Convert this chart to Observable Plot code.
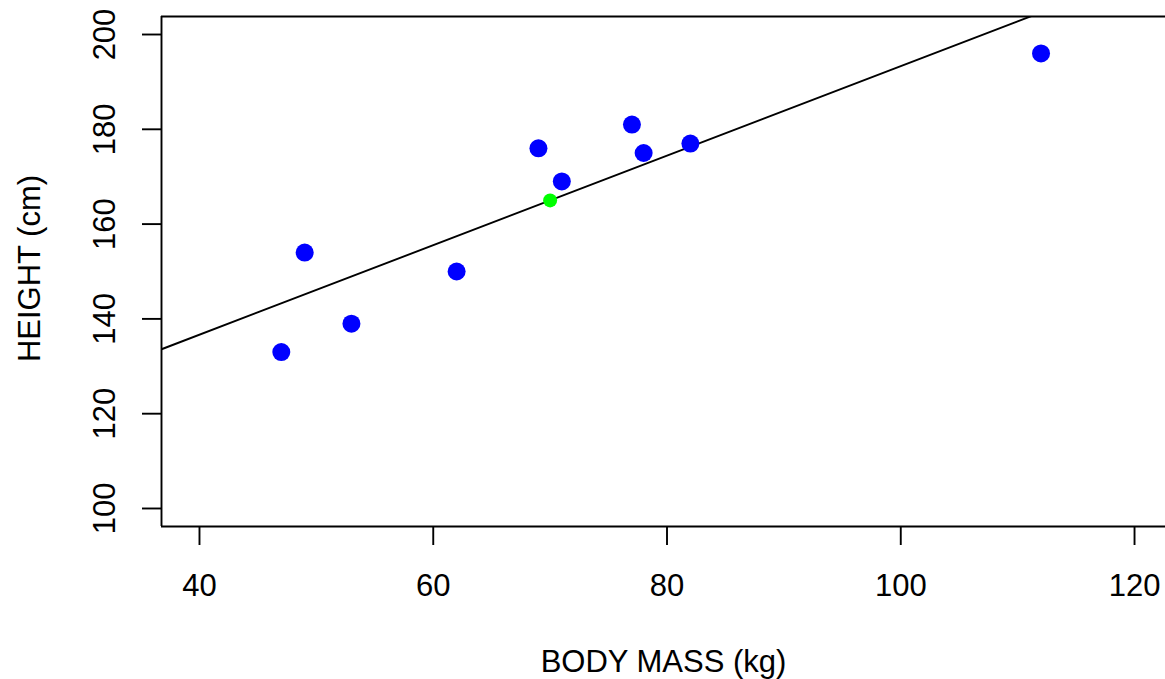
<!DOCTYPE html>
<html>
<head>
<meta charset="utf-8">
<script src="https://cdn.jsdelivr.net/npm/d3@7"></script>
<script src="https://cdn.jsdelivr.net/npm/@observablehq/plot@0.6"></script>
<style>
  html, body { margin: 0; padding: 0; background: #fff; }
  #chart svg { display: block; }
</style>
</head>
<body>
<div id="chart"></div>
<script>
// Data
const bodyMass = [47, 49, 53, 62, 69, 71, 77, 78, 82, 112];
const heightCm = [133, 154, 139, 150, 176, 169, 181, 175, 177, 196];
const xTicks = [40, 60, 80, 100, 120];
const yTicks = [100, 120, 140, 160, 180, 200];
const xTitle = "BODY MASS (kg)";
const yTitle = "HEIGHT (cm)";

const points = bodyMass.map((m, i) => ({x: m, y: heightCm[i]}));
const mx = d3.mean(bodyMass), my = d3.mean(heightCm);
const sxy = d3.sum(points, d => (d.x - mx) * (d.y - my));
const sxx = d3.sum(points, d => (d.x - mx) ** 2);
const slope = sxy / sxx, intercept = my - slope * mx;

const xDomain = [36.75, 122.65];
const yDomain = [96.2, 203.8];
const fitLine = xDomain.map(x => ({x, y: intercept + slope * x}));

const FONT = "'Liberation Sans', Arial, Helvetica, sans-serif";
const FS = 31;
const SW = 1.9;

const chart = Plot.plot({
  width: 1165,
  height: 679,
  marginLeft: 161,
  marginRight: 0,
  marginTop: 16,
  marginBottom: 153,
  style: {fontFamily: FONT, fontSize: FS + "px", color: "#000", background: "#fff"},
  x: {domain: xDomain},
  y: {domain: yDomain},
  marks: [
    Plot.ruleY([yDomain[0], yDomain[1]], {stroke: "#000", strokeWidth: SW}),
    Plot.ruleX([xDomain[0]], {stroke: "#000", strokeWidth: SW}),
    Plot.axisX({ticks: xTicks, tickSize: 19, tickPadding: 28, strokeWidth: SW, label: null, fontSize: FS, tickFormat: d => d}),
    Plot.axisY({ticks: yTicks, tickSize: 19, tickFormat: () => "", label: null, strokeWidth: SW}),
    Plot.text(yTicks, {y: d => d, text: d => String(d), frameAnchor: "left", textAnchor: "middle", dx: -56, rotate: -90, fontSize: FS, fill: "#000"}),
    Plot.text([xTitle], {frameAnchor: "bottom", dy: 145, fontSize: FS, fill: "#000"}),
    Plot.text([yTitle], {frameAnchor: "left", textAnchor: "middle", dx: -131, dy: -3, rotate: -90, fontSize: FS, fill: "#000"}),
    Plot.line(fitLine, {x: "x", y: "y", stroke: "#000", strokeWidth: SW, clip: true}),
    Plot.dot(points, {x: "x", y: "y", r: 9, fill: "#0000ff", stroke: "none"}),
    Plot.dot([{x: mx, y: my}], {x: "x", y: "y", r: 7, fill: "#00ff00", stroke: "none"})
  ]
});
document.getElementById("chart").appendChild(chart);
</script>
</body>
</html>
